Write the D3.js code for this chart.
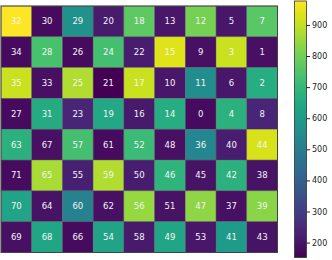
<!DOCTYPE html>
<html><head><meta charset="utf-8">
<script src="https://cdn.jsdelivr.net/npm/d3@7"></script>
<style>body{margin:0;background:#fff}svg{display:block}text{font-family:"DejaVu Sans",sans-serif}</style>
</head><body><svg id="c" width="332" height="260"></svg>
<script>
const cols = [0,1,2,3,4,5,6,7,8];
const rows = [0,1,2,3,4,5,6,7];
const labels = [
 [32,30,29,20,18,13,12,5,7],
 [34,28,26,24,22,15,9,3,1],
 [35,33,25,21,17,10,11,6,2],
 [27,31,23,19,16,14,0,4,8],
 [63,67,57,61,52,48,36,40,44],
 [71,65,55,59,50,46,45,42,38],
 [70,64,60,62,56,51,47,37,39],
 [69,68,66,54,58,49,53,41,43]
];
const values = [
 [977,177,565,212,771,202,804,202,763],
 [177,738,177,730,215,936,185,911,185],
 [911,185,878,152,911,202,556,202,664],
 [177,655,238,647,210,664,177,680,238],
 [680,185,730,177,713,185,532,215,928],
 [177,870,225,878,215,688,193,680,193],
 [631,193,515,185,845,193,837,185,829],
 [185,639,177,631,210,639,202,606,193]
];
const cbTicks = [200,300,400,500,600,700,800,900];

const svg = d3.select("#c");
const x = d3.scaleBand().domain(cols).range([1,277.5]);
const y = d3.scaleBand().domain(rows).range([6,252.5]);
const flat = values.flat();
const color = d3.scaleSequential(d3.interpolateViridis).domain(d3.extent(flat));

const cells = [];
rows.forEach(r => cols.forEach(c => cells.push({r, c, v: values[r][c], l: labels[r][c]})));

const g = svg.append("g");
g.selectAll("rect").data(cells).join("rect")
  .attr("x", d => x(d.c)).attr("y", d => y(d.r))
  .attr("width", x.bandwidth()).attr("height", y.bandwidth())
  .attr("fill", d => color(d.v))
  .attr("stroke", "rgba(90,90,90,0.6)").attr("stroke-width", 0.6);
g.selectAll("text").data(cells).join("text")
  .attr("x", d => x(d.c) + x.bandwidth()/2)
  .attr("y", d => y(d.r) + y.bandwidth()/2)
  .attr("text-anchor", "middle").attr("dominant-baseline", "central")
  .attr("fill", "#f4f4f4").attr("font-size", 8.5)
  .text(d => d.l);
svg.append("rect").attr("x", 1).attr("y", 6).attr("width", 276.5).attr("height", 246.5)
  .attr("fill", "none").attr("stroke", "#444").attr("stroke-width", 1);

// colorbar
const cbX = 294.5, cbW = 12;
const cy = d3.scaleLinear().domain(d3.extent(flat)).range([257.5, 1]);
const defs = svg.append("defs");
const grad = defs.append("linearGradient").attr("id","vg").attr("x1",0).attr("y1",1).attr("x2",0).attr("y2",0);
d3.range(0, 1.0001, 0.05).forEach(t => grad.append("stop").attr("offset", t).attr("stop-color", d3.interpolateViridis(t)));
svg.append("rect").attr("x", cbX).attr("y", cy.range()[1]).attr("width", cbW)
  .attr("height", cy.range()[0] - cy.range()[1]).attr("fill", "url(#vg)")
  .attr("stroke", "#333").attr("stroke-width", 0.8);
const ax = svg.append("g").attr("transform", `translate(${cbX+cbW},0)`)
  .call(d3.axisRight(cy).tickValues(cbTicks).tickSize(3.5).tickPadding(2));
ax.select(".domain").remove();
ax.selectAll("text").attr("font-size", 8).attr("fill", "#222").attr("font-family", "DejaVu Sans");
ax.selectAll("line").attr("stroke", "#222");
</script></body></html>
